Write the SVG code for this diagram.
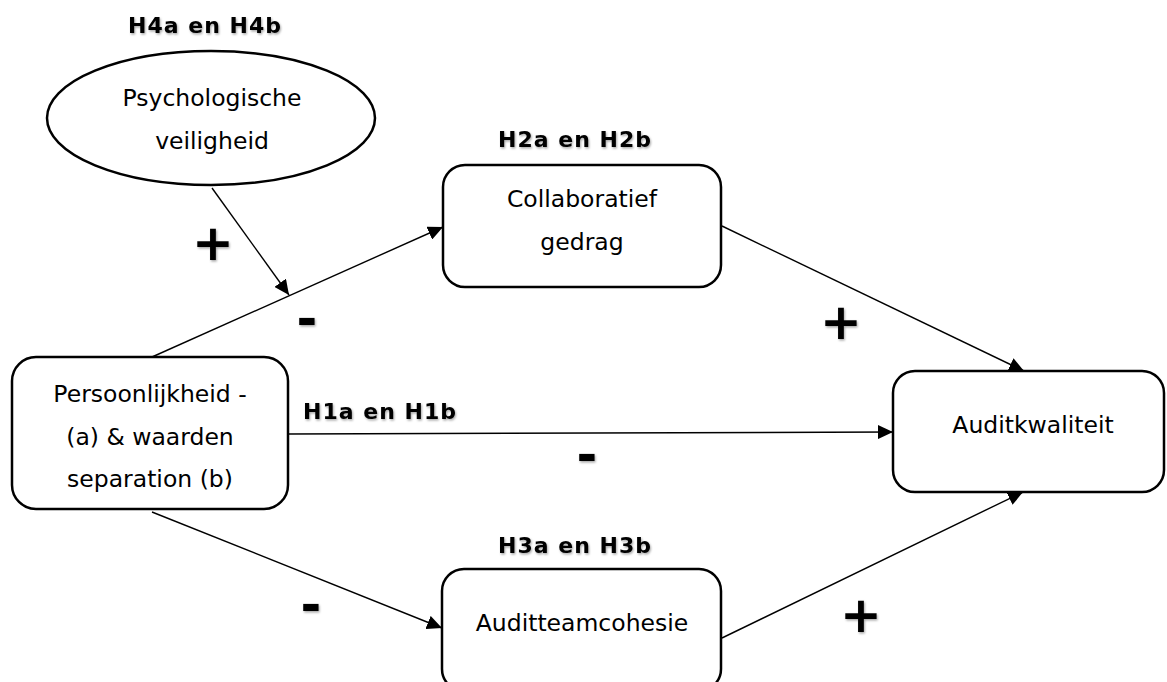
<svg xmlns="http://www.w3.org/2000/svg" width="1167" height="682" viewBox="0 0 1167 682">
<defs>
<marker id="arrow" markerUnits="userSpaceOnUse" markerWidth="16" markerHeight="14" refX="15" refY="7" orient="auto">
<path d="M0,0 L15,7 L0,14 Z" fill="#000"/>
</marker>
<filter id="shadow" x="-20%" y="-20%" width="140%" height="140%">
<feDropShadow dx="1" dy="1.5" stdDeviation="1" flood-color="#000" flood-opacity="0.35"/>
</filter>
</defs>
<style>
.node{fill:#fff;stroke:#000;stroke-width:2.5}
.txt{font-family:"DejaVu Sans","Verdana",sans-serif;font-size:23.5px;fill:#000;text-anchor:middle}
.lbl{font-family:"DejaVu Sans","Verdana",sans-serif;font-size:22px;font-weight:bold;fill:#000;letter-spacing:1px;filter:url(#shadow)}
.sign{font-family:"DejaVu Sans","Verdana",sans-serif;font-size:50px;font-weight:bold;fill:#000;text-anchor:middle;filter:url(#shadow)}
.conn{stroke:#000;stroke-width:1.4;fill:none;marker-end:url(#arrow)}
</style>
<rect width="1167" height="682" fill="#fff"/>
<g id="connectors">
<line class="conn" x1="212" y1="188" x2="289" y2="295"/>
<line class="conn" x1="152" y1="357" x2="443" y2="227"/>
<line class="conn" x1="288" y1="434" x2="893" y2="432"/>
<line class="conn" x1="152" y1="512" x2="442" y2="628"/>
<line class="conn" x1="722" y1="226" x2="1024" y2="371"/>
<line class="conn" x1="722" y1="638" x2="1023" y2="492"/>
</g>
<g id="psychologische-veiligheid">
<ellipse class="node" cx="211" cy="118" rx="164" ry="67"/>
<text class="txt" x="212" y="106">Psychologische</text>
<text class="txt" x="212" y="149">veiligheid</text>
</g>
<g id="collaboratief-gedrag">
<rect class="node" x="443" y="165" width="278" height="122" rx="22"/>
<text class="txt" x="582" y="207">Collaboratief</text>
<text class="txt" x="582" y="250">gedrag</text>
</g>
<g id="persoonlijkheid">
<rect class="node" x="12" y="357" width="276" height="152" rx="24"/>
<text class="txt" x="150" y="402">Persoonlijkheid -</text>
<text class="txt" x="150" y="445">(a) &amp; waarden</text>
<text class="txt" x="150" y="487">separation (b)</text>
</g>
<g id="auditkwaliteit">
<rect class="node" x="893" y="371" width="271" height="121" rx="22"/>
<text class="txt" x="1033" y="433">Auditkwaliteit</text>
</g>
<g id="auditteamcohesie">
<rect class="node" x="442" y="569" width="279" height="122" rx="22"/>
<text class="txt" x="582" y="631">Auditteamcohesie</text>
</g>
<g id="labels">
<text class="lbl" x="205" y="33" text-anchor="middle">H4a en H4b</text>
<text class="lbl" x="575" y="147" text-anchor="middle">H2a en H2b</text>
<text class="lbl" x="303" y="419">H1a en H1b</text>
<text class="lbl" x="575" y="553" text-anchor="middle">H3a en H3b</text>
<text class="sign" x="213" y="260">+</text>
<text class="sign" x="307" y="336">-</text>
<text class="sign" x="841" y="339">+</text>
<text class="sign" x="587" y="472">-</text>
<text class="sign" x="311" y="622">-</text>
<text class="sign" x="861" y="632">+</text>
</g>
</svg>
